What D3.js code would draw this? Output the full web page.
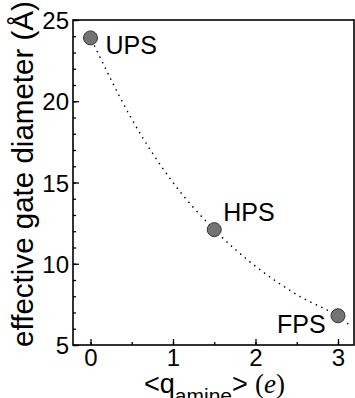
<!DOCTYPE html>
<html lang="en">
<head>
<meta charset="UTF-8">
<title>effective gate diameter</title>
<script src="https://d3js.org/d3.v7.min.js"></script>
<style>
  body { margin: 0; background: #fff; }
  text { font-family: "Liberation Sans", Arial, sans-serif; fill: #000; }
</style>
</head>
<body>
<svg width="355" height="398"></svg>
<script>
// data points
const charge = [0, 1.5, 3];
const diameter = [23.9, 12.1, 6.8];
const names = ["UPS", "HPS", "FPS"];

// dotted guide curve
const curveX = [0.05, 0.5, 1.0, 1.5, 2.0, 2.5, 3.0, 3.15];
const curveY = [23.4, 18.9, 15.0, 12.1, 9.85, 8.1, 6.75, 6.2];

const xTicks = [0, 1, 2, 3];
const yTicks = [5, 10, 15, 20, 25];

const svg = d3.select("svg");
const plotL = 73, plotR = 354, plotT = 20, plotB = 345;

const x = d3.scaleLinear().domain([-0.212, 3.194]).range([plotL, plotR]);
const y = d3.scaleLinear().domain([5, 25]).range([plotB, plotT]);

// minor ticks
svg.append("g")
  .attr("transform", `translate(0,${plotB})`)
  .call(d3.axisBottom(x).tickValues(d3.range(0, 3.01, 0.5)).tickSize(-3).tickFormat(""))
  .call(g => g.select(".domain").remove())
  .selectAll("line").attr("stroke-width", 1.3);

svg.append("g")
  .attr("transform", `translate(${plotL},0)`)
  .call(d3.axisLeft(y).tickValues(d3.range(5, 25.01, 1)).tickSize(-3).tickFormat(""))
  .call(g => g.select(".domain").remove())
  .selectAll("line").attr("stroke-width", 1.3);

// major ticks + labels
const xAxis = svg.append("g")
  .attr("transform", `translate(0,${plotB})`)
  .call(d3.axisBottom(x).tickValues(xTicks).tickSize(-6).tickFormat(d3.format("d")));
xAxis.select(".domain").remove();
xAxis.selectAll("line").attr("stroke-width", 1.3);
xAxis.selectAll("text").attr("font-size", 24).attr("y", 21).attr("dy", 0)
  .style("font-family", "Liberation Sans, Arial, sans-serif");

const yAxis = svg.append("g")
  .attr("transform", `translate(${plotL},0)`)
  .call(d3.axisLeft(y).tickValues(yTicks).tickSize(-6).tickPadding(4).tickFormat(d3.format("d")));
yAxis.select(".domain").remove();
yAxis.selectAll("line").attr("stroke-width", 1.3);
yAxis.selectAll("text").attr("font-size", 24).attr("dy", "0.36em")
  .style("font-family", "Liberation Sans, Arial, sans-serif");

// frame
svg.append("rect")
  .attr("x", plotL).attr("y", plotT)
  .attr("width", plotR - plotL).attr("height", plotB - plotT)
  .attr("fill", "none").attr("stroke", "#000").attr("stroke-width", 1.6);

// dotted curve
const line = d3.line()
  .x((d, i) => x(curveX[i]))
  .y(d => y(d))
  .curve(d3.curveMonotoneX);

svg.append("path")
  .attr("d", line(curveY))
  .attr("fill", "none")
  .attr("stroke", "#000")
  .attr("stroke-width", 1.6)
  .attr("stroke-linecap", "round")
  .attr("stroke-dasharray", "0.1,6");

// points
svg.selectAll("circle.pt")
  .data(charge)
  .join("circle")
  .attr("class", "pt")
  .attr("cx", d => x(d))
  .attr("cy", (d, i) => y(diameter[i]))
  .attr("r", 7)
  .attr("fill", "#737373")
  .attr("stroke", "#333")
  .attr("stroke-width", 1);

// point labels
const labelDx = [15, 9, -61];
const labelDy = [16, -9, 17];
svg.selectAll("text.lbl")
  .data(names)
  .join("text")
  .attr("class", "lbl")
  .attr("x", (d, i) => x(charge[i]) + labelDx[i])
  .attr("y", (d, i) => y(diameter[i]) + labelDy[i])
  .attr("font-size", 25)
  .text(d => d);

// y title, sized to run the height of the picture
const yt = svg.append("text")
  .attr("transform", "translate(33,174) rotate(-90)")
  .attr("text-anchor", "middle")
  .attr("font-size", 24)
  .text("effective gate diameter (Å)");
const ytLen = yt.node().getComputedTextLength();
yt.attr("font-size", 24 * 346 / ytLen);

// x title
const xt = svg.append("text")
  .attr("x", 144).attr("y", 393)
  .attr("font-size", 27);
xt.append("tspan").text("<q");
xt.append("tspan").attr("font-size", 21).attr("dy", 10).text("amine");
xt.append("tspan").attr("dy", -10).text(">");
xt.append("tspan")
  .attr("x", 255)
  .style("font-family", "Liberation Serif, Times New Roman, serif")
  .attr("font-size", 27).text("(");
xt.append("tspan")
  .style("font-family", "Liberation Serif, Times New Roman, serif")
  .attr("font-style", "italic")
  .attr("font-size", 27).text("e");
xt.append("tspan")
  .style("font-family", "Liberation Serif, Times New Roman, serif")
  .attr("font-size", 27).text(")");
</script>
</body>
</html>
